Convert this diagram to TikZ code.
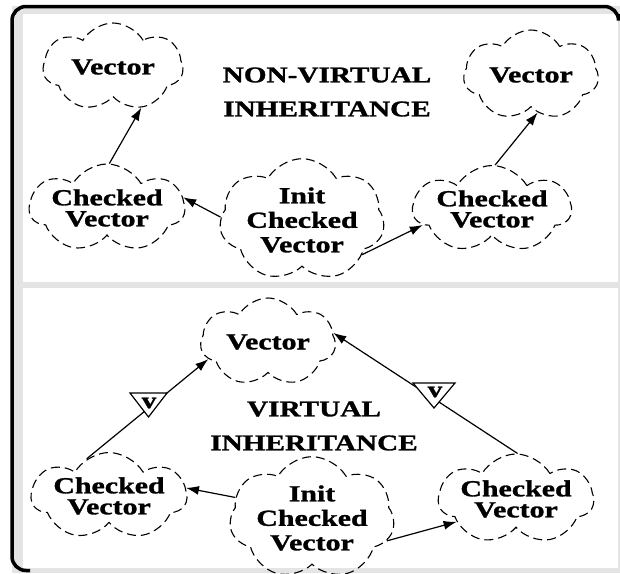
\documentclass[tikz,border=0pt]{standalone}
\usepackage{fontspec}
\setmainfont{Liberation Serif}[FakeStretch=1.3, BoldFeatures={FakeBold=1.2}]
\usetikzlibrary{shapes.symbols,arrows.meta,calc}
\definecolor{framegray}{HTML}{E4E4E4}
\begin{document}
\begin{tikzpicture}[x=1pt,y=-1pt,
  cl/.style={cloud, cloud puffs=7, cloud puff arc=120, cloud ignores aspect, draw,
    dash pattern=on 9pt off 5pt, line width=1.1pt, align=center, inner sep=0pt,
    font=\fontsize{23}{21}\selectfont\bfseries},
  arr/.style={-{Latex[length=13pt,width=9pt]}, line width=1.2pt},
  ttl/.style={align=center, inner sep=0pt, font=\fontsize{22.5}{34}\selectfont\bfseries},
  tri/.style={fill=white, draw, line width=1.2pt, line join=miter},
  vlab/.style={inner sep=0pt, font=\fontsize{22.5}{20}\selectfont\bfseries},
]
\useasboundingbox (0,0) rectangle (620,573);
% frame
\fill[framegray] (12,6) rectangle (620,573);
\fill[white] (23,14) rectangle (617.5,282);
\fill[white] (23,288) rectangle (617.5,568);
\draw[line width=3.5pt, rounded corners=14pt] (30,570.5) -- (12,570.5) -- (12,6.5) -- (618.5,6.5) -- (618.5,14);

% top panel
\node[ttl] (t1) at (327,92) {NON-VIRTUAL\\INHERITANCE};
\node[cl, minimum width=140, minimum height=88] (vtl) at (113,67) {Vector};
\node[cl, minimum width=135, minimum height=90] (vtr) at (531,75) {Vector};
\node[cl, minimum width=148, minimum height=88] (cvl) at (107,208) {Checked\\Vector};
\node[cl, minimum width=145, minimum height=92, font=\fontsize{23}{24.5}\selectfont\bfseries] (init) at (302,220) {Init\\Checked\\Vector};
\node[cl, minimum width=158, minimum height=82] (cvr) at (492,209) {Checked\\Vector};

\draw[arr] (cvl.87) -- (vtl.-55);
\draw[arr] (init.178) -- (cvl.8);
\draw[arr] (init.-30) -- (cvr.193);
\draw[arr] (cvr.86) -- (vtr.-80);

% bottom panel
\node[ttl] (t2) at (314,426) {VIRTUAL\\INHERITANCE};
\node[cl, minimum width=135, minimum height=88] (vb) at (268,342) {Vector};
\node[cl, minimum width=145, minimum height=86] (cvlb) at (109,496) {Checked\\Vector};
\node[cl, minimum width=148, minimum height=92, font=\fontsize{23}{24.5}\selectfont\bfseries] (initb) at (312,518) {Init\\Checked\\Vector};
\node[cl, minimum width=145, minimum height=90] (cvrb) at (516,499) {Checked\\Vector};

\draw[arr] (cvlb.121) -- (vb.196);
\draw[arr] (cvrb.88) -- (vb.8);
\draw[arr] (initb.165) -- (cvlb.6);
\draw[arr] (initb.-17) -- (cvrb.201);

% virtual markers
\draw[tri] (130,393) -- (167,393) -- (148.5,417) -- cycle;
\node[vlab] (v1) at (149,403) {v};
\draw[tri] (413,383) -- (455,383) -- (434,408) -- cycle;
\node[vlab] (v2) at (435,392) {v};
\end{tikzpicture}
\end{document}
